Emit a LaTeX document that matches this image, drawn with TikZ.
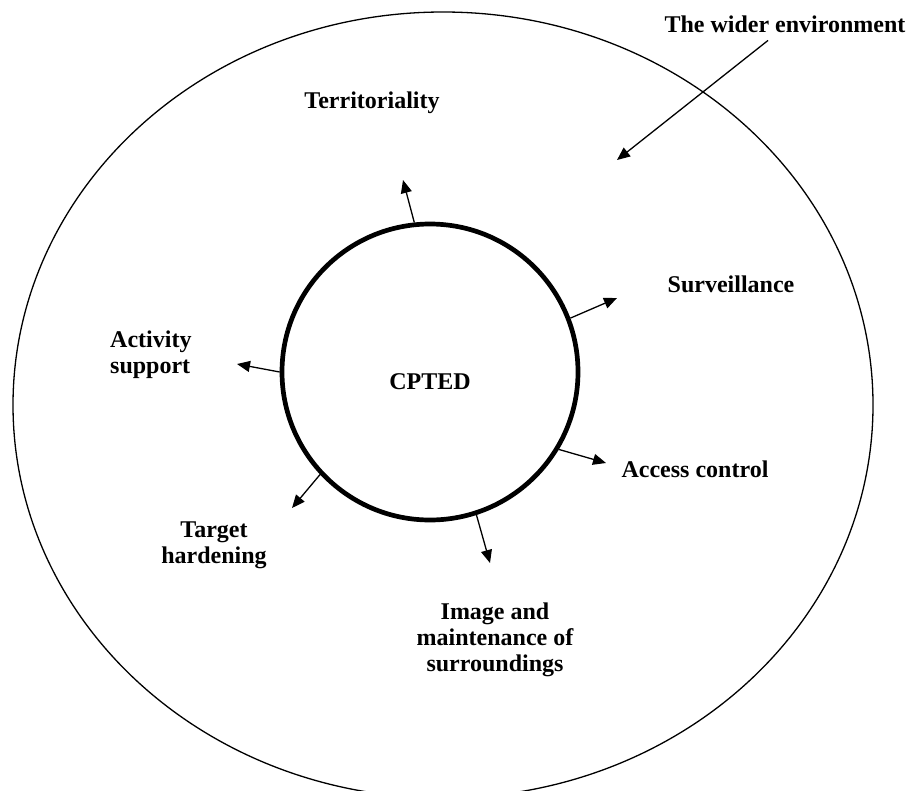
\documentclass[tikz,border=0pt]{standalone}
\usepackage{fontspec}
\setmainfont{Liberation Serif}
\usetikzlibrary{arrows.meta}
\begin{document}
\begin{tikzpicture}[x=1pt, y=-1pt, line join=round,
  lbl/.style={font=\fontsize{24}{26}\selectfont\bfseries, inner sep=0pt},
  arr/.style={line width=1.3pt, -{Triangle[length=13pt, width=11pt]}},
  ring/.style={circle, draw, line width=4.7pt, minimum size=296pt, inner sep=0pt}]
\useasboundingbox (0,0) rectangle (909,790);
\clip (0,0) rectangle (909,790);
\draw[line width=1.3pt] (443,405) ellipse [x radius=430pt, y radius=393pt];
\node[ring] (cpted) at (430,372) {};
\node[lbl, anchor=base] (core) at (430,389) {CPTED};
\node[lbl, anchor=base] (wider) at (785,32) {The wider environment};
\node[lbl, anchor=base] (terr) at (372,108) {Territoriality};
\node[lbl, anchor=base] (surv) at (731,292) {Surveillance};
\node[lbl, anchor=base] (acc) at (695,477) {Access control};
\node[lbl, align=left, anchor=north west] (act) at (110,331) {Activity\\support};
\node[lbl, align=center, anchor=north] (targ) at (214,522) {Target\\hardening};
\node[lbl, align=center, anchor=north] (img) at (495,603) {Image and\\maintenance of\\surroundings};
\foreach \x\y\t in {403/180/terr,617/298/surv,237/364/act,292/508/targ,490/563/img,606/463/acc,617/160/wider}
\coordinate (h-\t) at (\x,\y);
\foreach \t/\a in {terr/96,surv/21.5,act/180,targ/223,img/288,acc/329} \draw[arr] (cpted.\a) -- (h-\t);
\draw[arr] ([shift={(-17,8)}]wider.south) -- (h-wider);
\end{tikzpicture}
\end{document}
